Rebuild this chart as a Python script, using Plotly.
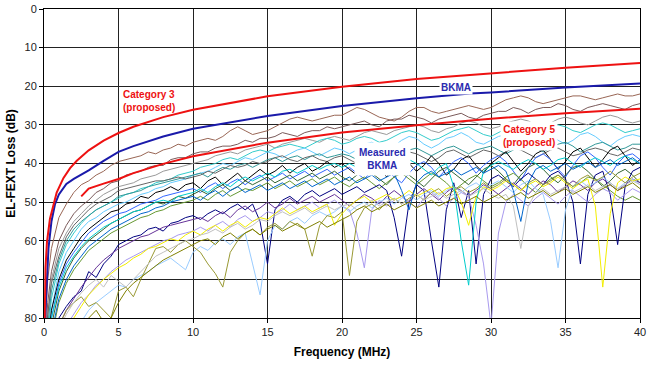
import plotly.graph_objects as go

# ---------------- data ----------------
freq = [0.1, 0.25, 0.5,
        1, 1.5, 2, 2.5, 3, 3.5, 4, 4.5, 5, 5.5, 6, 6.5, 7, 7.5, 8, 8.5, 9, 9.5, 10,
        10.5, 11, 11.5, 12, 12.5, 13, 13.5, 14, 14.5, 15, 15.5, 16, 16.5, 17, 17.5, 18, 18.5, 19, 19.5, 20,
        20.5, 21, 21.5, 22, 22.5, 23, 23.5, 24, 24.5, 25, 25.5, 26, 26.5, 27, 27.5, 28, 28.5, 29, 29.5, 30,
        30.5, 31, 31.5, 32, 32.5, 33, 33.5, 34, 34.5, 35, 35.5, 36, 36.5, 37, 37.5, 38, 38.5, 39, 39.5, 40]

m01 = [80, 70, 62,
       54, 50.5, 47.5, 45.5, 44.5, 43, 42, 40.5, 39.5, 39, 38.5, 38, 37, 37.5, 36.5, 36, 35, 35.5, 34.5,
       34, 33.5, 34, 33, 31.5, 30.5, 31.5, 32.5, 32, 31.5, 30.5, 29.5, 28.5, 28, 28.5, 29, 28.5, 28, 27.5, 27.5,
       26.5, 25.5, 26, 27, 28, 28.5, 29, 28, 26.5, 25.5, 25.5, 26.5, 27, 26.5, 26, 25.5, 25, 25.5, 26, 25.5,
       24.5, 23.5, 23, 22.5, 23, 24, 24.5, 24, 23.5, 23, 22.5, 22.5, 23, 23.5, 23, 22.5, 22, 22.5, 22.5, 22]
m02 = [85, 76, 68,
       60, 56, 53, 51, 49.5, 47.5, 46.5, 45, 44.5, 43, 42.5, 42, 41, 40.5, 40.5, 39, 38.5, 38.5, 37.5,
       37, 37, 36, 35.5, 35.5, 35, 34, 34.5, 33.5, 33.5, 33, 32, 32.5, 33, 32, 31.5, 31.5, 30.5, 31, 30.5,
       30, 29.5, 29, 30, 30.5, 29, 28.5, 28.5, 27.5, 28, 28.5, 29.5, 28.5, 28, 27.5, 27, 28, 28.5, 27.5, 27,
       26.5, 26.5, 25.5, 26, 27, 26, 25.5, 25.5, 24.5, 25, 26, 26.5, 25.5, 25, 24.5, 25, 25.5, 26, 25, 24.5]
m03 = [88, 80, 70,
       62, 58, 55, 53, 51, 49.5, 48, 47, 46, 45.5, 45, 44, 43.5, 43, 42, 41.5, 41, 40.5, 40,
       39.5, 39, 38, 37.5, 37, 37.5, 36.5, 36, 35.5, 35, 36, 35, 34.5, 34, 33.5, 34, 34.5, 33.5, 33, 33.5,
       34, 33, 32, 31.5, 32, 32.5, 31.5, 31, 30.5, 30, 30.5, 31.5, 32, 31, 30.5, 29.5, 29, 29.5, 30.5, 31,
       30.5, 29.5, 29, 28.5, 29, 30, 30.5, 29.5, 28.5, 28, 28.5, 29.5, 30, 29, 28, 27.5, 28, 29, 29.5, 29]
m04 = [90, 84, 75,
       66, 61, 58, 55.5, 53.5, 52, 51, 50, 49, 48, 47.5, 46.5, 46, 45, 44.5, 44, 43, 42.5, 42,
       41, 40.5, 40, 39, 38.5, 39, 38, 37, 36.5, 37, 36, 35.5, 35, 35.5, 36, 35, 34, 33.5, 34, 35,
       34.5, 33.5, 33, 33.5, 34.5, 34, 33, 32, 31.5, 32, 33, 34, 33.5, 32.5, 31.5, 31, 30.5, 31.5, 32.5, 33,
       32, 31, 30.5, 31, 32, 32.5, 31.5, 30.5, 30, 30.5, 31.5, 32, 31, 30, 29.5, 30, 31, 32, 31.5, 31]
m05 = [92, 86, 78,
       68, 63, 60, 57, 55, 54, 52.5, 51.5, 50.5, 50, 49, 48, 47.5, 46.5, 46, 45, 44.5, 44, 43,
       42.5, 42, 41, 40, 40.5, 39.5, 38.5, 39, 38, 37, 37.5, 38.5, 37.5, 36.5, 36, 37, 38, 37, 36, 36.5,
       37.5, 36.5, 35, 34.5, 35.5, 36.5, 35.5, 34, 33, 33.5, 35, 36, 35, 33.5, 33, 32, 33, 34.5, 35, 34,
       33, 32.5, 33.5, 35, 34.5, 33, 32, 32.5, 34, 35, 34, 32.5, 32, 33, 34.5, 35.5, 34, 33, 32.5, 33]
m06 = [90, 82, 73,
       65, 60, 57, 55, 53.5, 52, 51, 50, 48.5, 48, 47.5, 47, 46, 45.5, 45, 44.5, 44, 43.5, 43,
       42.5, 43.5, 42, 41, 41.5, 40.5, 40, 41, 40, 39, 38.5, 39.5, 38.5, 38, 39, 38, 37.5, 38.5, 38, 37.5,
       38, 39, 38, 37, 36.5, 37.5, 38.5, 37.5, 36.5, 36, 37, 38, 37, 36, 35.5, 36.5, 37.5, 36.5, 36, 35.5,
       36.5, 37.5, 36.5, 35.5, 35, 36, 37, 36, 35, 34.5, 35.5, 37, 36, 35, 34.5, 35.5, 36.5, 36, 35, 35]
m07 = [88, 79, 71,
       64, 59, 56, 54, 52, 50.5, 49.5, 48.5, 47, 46.5, 46, 45.5, 45, 44.5, 44.5, 44, 43.5, 44, 43.5,
       43, 42, 42.5, 41.5, 40.5, 41, 40.5, 39.5, 40, 39.5, 38.5, 38, 39, 39.5, 38.5, 38, 39, 39.5, 38.5, 38,
       39, 40, 38.5, 37.5, 38, 39, 38.5, 37.5, 37, 37.5, 38.5, 39.5, 38.5, 37, 36.5, 37.5, 38.5, 37.5, 36.5, 37,
       38, 37, 36, 36.5, 37.5, 38.5, 37.5, 36.5, 36, 37, 38, 37.5, 36.5, 36, 36.5, 37.5, 38, 37, 36, 36.5]
m08 = [92, 86, 78,
       70, 65, 62, 59, 57, 55.5, 54, 52.5, 52, 50.5, 50, 48.5, 49, 47.5, 47, 46, 47, 45.5, 45,
       46.5, 44.5, 43.5, 45.5, 44, 42.5, 44.5, 43, 41.5, 43, 42, 40.5, 42.5, 41, 40, 42, 41, 39.5, 41, 40,
       41.5, 43, 40.5, 39, 41, 43.5, 41, 38.5, 40, 42, 40.5, 38, 40, 43, 41.5, 39, 38, 40.5, 42.5, 40,
       38.5, 37, 39.5, 42, 40, 37.5, 36.5, 39, 41.5, 39.5, 37, 36, 38.5, 41, 39, 36.5, 35.5, 38, 40.5, 39]
m09 = [95, 88, 80,
       71, 66, 63, 60.5, 58, 56.5, 55, 54, 53, 52.5, 51.5, 50.5, 50, 49.5, 48.5, 48, 47.5, 47, 46.5,
       47.5, 46, 45, 46.5, 45, 44, 45.5, 44, 43, 44.5, 43.5, 42.5, 44, 43, 42, 43.5, 42.5, 41.5, 43, 42,
       41, 42.5, 44, 42, 40.5, 41.5, 43.5, 45, 42.5, 40.5, 39.5, 41, 43.5, 41.5, 39.5, 38.5, 40, 42.5, 40.5, 39,
       38, 39.5, 42, 44.5, 41, 38.5, 37.5, 39, 41.5, 43.5, 40.5, 38, 37, 38.5, 41, 43, 40, 38, 37.5, 39]
m10 = [95, 90, 82,
       73, 68, 64.5, 62, 60, 58.5, 57, 55.5, 54.5, 53.5, 52.5, 52, 51, 50, 50.5, 49.5, 48.5, 49, 48,
       47, 48, 46.5, 45.5, 47, 46, 44.5, 45.5, 44.5, 43.5, 45, 44, 43, 44.5, 43.5, 42.5, 44, 43, 42, 43.5,
       44.5, 43, 41.5, 42.5, 44, 45.5, 43.5, 42, 43, 44.5, 46, 44, 42, 41, 42.5, 44, 45.5, 43.5, 41.5, 40.5,
       42, 44, 45.5, 43, 41, 40, 41.5, 43.5, 45, 43, 41, 40.5, 42, 44, 46, 44.5, 42.5, 41.5, 43, 45]
m11 = [98, 92, 85,
       76, 71, 67.5, 65, 62.5, 61, 59.5, 58, 57, 56, 55, 54, 53.5, 52.5, 52, 51, 50.5, 50, 49.5,
       48.5, 49.5, 48, 47, 48.5, 47.5, 46.5, 47, 46, 45, 46.5, 45.5, 44.5, 46, 45, 44, 45.5, 44.5, 43.5, 45,
       46, 44.5, 43.5, 45, 46.5, 45, 43.5, 42.5, 44, 45.5, 44, 42.5, 43.5, 45, 47, 45.5, 44, 43, 44.5, 46,
       45, 43.5, 42.5, 44, 46, 47.5, 45.5, 44, 43, 44.5, 46, 45, 43.5, 44, 45.5, 47, 48.5, 49.5, 48.5, 49.5]
m12 = [100, 95, 88,
       80, 77, 74.5, 73, 68, 69.5, 66, 64, 61, 60, 59, 58.5, 57, 56.5, 57.5, 55.5, 55, 54, 53.5,
       54.5, 53, 52, 53, 51.5, 50.5, 52, 50.5, 55, 66, 52, 49.5, 48.5, 50, 48, 47, 48.5, 47.5, 46.5, 48,
       47, 46, 47.5, 46.5, 45.5, 47, 54, 64, 50, 45.5, 47, 60, 72, 52, 45, 54, 47, 66, 48, 44,
       43, 44.5, 46, 44, 42.5, 44, 45.5, 43, 42, 44, 50, 66, 48, 43, 42, 48, 61, 46, 42, 41]
m13 = [100, 96, 90,
       82, 78, 75, 72, 69.5, 67, 65, 63.5, 62, 61, 60, 59, 58.5, 57.5, 56.5, 56, 55.5, 55, 54.5,
       54, 55, 53.5, 52.5, 54, 52, 51, 52.5, 51.5, 50, 51.5, 50.5, 49, 50.5, 49.5, 48.5, 50, 49, 48, 49.5,
       51, 49.5, 48, 49, 50.5, 48.5, 47, 48.5, 50, 48, 46.5, 48, 49.5, 47.5, 46, 47, 48.5, 47, 45.5, 46.5,
       48, 46.5, 45, 46.5, 48, 46, 44.5, 45.5, 47.5, 46, 44.5, 45.5, 47, 45, 44, 45.5, 47, 45.5, 44, 45]
m14 = [100, 100, 95,
       86, 82, 79, 76, 74, 71.5, 70, 68, 66.5, 65, 64, 63, 62, 61, 60, 59.5, 58.5, 58, 57.5,
       56.5, 57.5, 56, 55, 56.5, 54.5, 53.5, 55, 54, 52.5, 53, 52, 50.5, 52, 51, 50, 51.5, 50.5, 49.5, 51,
       52, 58, 67, 52, 49.5, 51, 49.5, 48.5, 50, 51.5, 49, 47.5, 49, 51, 49, 47.5, 48.5, 56, 66, 82,
       58, 50, 48, 49.5, 51, 49, 47.5, 49, 50.5, 48.5, 47, 48.5, 50, 48, 46.5, 47.5, 49.5, 48, 46.5, 47.5]
m15 = [100, 100, 100,
       92, 88, 84, 81, 78, 76, 74.5, 73, 71.5, 72, 70, 69, 68, 66.5, 65.5, 64.5, 66, 67.5, 63,
       61.5, 62.5, 60.5, 59.5, 61, 59, 58, 66, 74, 60, 56, 57, 55, 54, 55.5, 53.5, 52.5, 53.5, 52.5, 51,
       52.5, 51, 50, 51.5, 50, 49, 50.5, 49, 48, 49.5, 48, 47, 48.5, 47, 46, 47.5, 46, 45, 46.5, 45.5,
       44.5, 46, 47.5, 45.5, 44.5, 46.5, 48, 55, 67, 52, 46, 44.5, 46, 45, 43.5, 45, 46.5, 45, 44, 45.5]
m16 = [100, 100, 100,
       82, 78, 76, 74.5, 77, 76, 78, 80, 73, 72, 74.5, 70, 66, 62, 61.5, 63, 61, 60, 61.5,
       63, 66, 68.5, 72, 63, 60, 58, 57, 58.5, 56.5, 55.5, 57, 55, 56, 57, 64, 56, 53.5, 54, 52.5,
       69, 55, 51.5, 50.5, 52, 50, 49, 50.5, 49, 48, 49.5, 47.5, 46.5, 48.5, 47, 46, 47.5, 46.5, 45, 46.5,
       45.5, 44, 45.5, 47, 45, 44, 45.5, 44.5, 43, 44.5, 46, 44, 43, 44.5, 43.5, 42, 43.5, 45, 43.5, 42.5]
m17 = [100, 100, 98,
       88, 84, 80, 77, 74, 72, 70, 68.5, 67, 66, 64.5, 63.5, 62, 61.5, 60.5, 59.5, 60, 58.5, 57.5,
       58.5, 57, 56, 57.5, 56, 55, 56.5, 55, 54, 54.5, 53, 51.5, 53, 52, 51, 52.5, 51.5, 50.5, 56, 53,
       51, 49.5, 48.5, 50, 49, 48, 49.5, 48.5, 47, 48.5, 47.5, 46.5, 48, 46.5, 46, 50, 56, 48.5, 46, 47,
       46, 44.5, 45.5, 47, 45.5, 44.5, 46, 45, 43.5, 45, 46.5, 45, 44, 51, 72, 53, 45, 43.5, 44.5, 44]
m18 = [100, 97, 90,
       83, 79, 76, 73.5, 71.5, 70, 72, 69, 70.5, 72, 70, 68, 66, 64, 63, 62, 61, 60, 59.5,
       58.5, 58, 57, 58, 56.5, 55.5, 57, 56, 54.5, 55, 53.5, 52.5, 53.5, 52.5, 51.5, 53, 52, 51, 52, 51,
       50.5, 52, 51, 49.5, 51, 50, 49, 50.5, 49.5, 48, 49.5, 48.5, 47.5, 49, 48, 47, 48.5, 47.5, 46.5, 48,
       49, 48, 51, 62, 51, 47.5, 46.5, 48, 47, 46, 47.5, 46.5, 45.5, 47, 46, 45, 46.5, 45.5, 44.5, 45.5]
m19 = [95, 88, 80,
       72, 67, 64, 61.5, 59.5, 58, 56.5, 55.5, 54.5, 53.5, 52.5, 52, 51, 50, 49.5, 50, 48.5, 48, 47.5,
       46.5, 47.5, 46, 45, 46, 44.5, 43.5, 44.5, 43.5, 42.5, 43.5, 42, 41.5, 42.5, 41.5, 40.5, 41.5, 40.5, 40, 41,
       40, 41, 42, 40.5, 39.5, 40.5, 41.5, 40, 39, 40, 41.5, 43, 41, 40, 46, 60, 71.5, 50, 42, 40.5,
       39.5, 40.5, 41.5, 40, 39, 40, 41.5, 40.5, 39, 38.5, 40, 41, 39.5, 38.5, 39.5, 40.5, 39, 38, 39, 40]
m20 = [98, 92, 84,
       75, 70, 66.5, 64, 61.5, 60, 58.5, 57, 56, 55, 54, 53, 52.5, 51.5, 51, 50, 49.5, 49, 48.5,
       49.5, 48, 47, 48.5, 47, 46, 47.5, 46.5, 45.5, 47, 46, 45, 46.5, 45.5, 44.5, 46, 45, 44, 45.5, 44.5,
       43.5, 45, 44, 43, 44.5, 43.5, 42.5, 47, 52, 45, 43, 42, 43.5, 42.5, 41.5, 43, 42, 41, 42.5, 41.5,
       40.5, 42, 47, 55, 45, 41.5, 40.5, 42, 41, 40, 41.5, 40.5, 39.5, 41, 40, 39, 40.5, 39.5, 38.5, 40]
m21 = [100, 100, 100,
       95, 90, 86, 82, 80, 78, 81, 80, 76, 73, 71, 69.5, 68, 66.5, 65, 64, 63, 62, 61,
       60, 59.5, 61, 59, 58, 59.5, 58, 57, 58.5, 57, 56, 57.5, 56.5, 55.5, 57, 56, 55, 56.5, 55.5, 54.5,
       53.5, 52, 51, 52.5, 51.5, 50.5, 52, 51, 50, 51.5, 50.5, 49.5, 51, 50, 49, 50.5, 49.5, 48.5, 50, 49,
       48, 49.5, 48.5, 47.5, 49, 48, 47, 48.5, 47.5, 46.5, 48, 47, 46, 47.5, 46.5, 45.5, 47, 46, 45, 46.5]

cat3_f = [0.05, 0.1, 0.2, 0.4, 0.85, 1.3, 1.75, 2.2, 3, 4, 5, 6, 8, 10, 15, 20, 25, 30, 35, 40]
cat3_db = [80, 67, 60.3, 54.3, 47.5, 43.8, 41.2, 39.3, 36.6, 34.1, 32.1, 30.5, 28.0, 26.1, 22.6, 20.1, 18.1, 16.6, 15.2, 14.0]

bkma_f = [0.08, 0.18, 0.3, 0.5, 0.74, 1, 1.5, 2, 3, 4, 5, 6, 8, 10, 12, 15, 20, 25, 28.6, 30, 35, 40]
bkma_db = [80, 70, 62, 55, 50.5, 48, 45.3, 44, 41.8, 39.3, 37, 35.5, 33, 31, 29.7, 27.7, 25.1, 23.1, 21.9, 21.6, 20.3, 19.3]

cat5_f = [2.5, 3, 4, 5, 6, 8, 10, 15, 20, 25, 30, 35, 40]
cat5_db = [48.5, 46.5, 45.2, 44.0, 42.5, 40.1, 38.1, 34.6, 32.0, 30.1, 28.4, 27.0, 25.8]

measured = [m01, m02, m03, m04, m05, m06, m07, m08, m09, m10, m11,
            m12, m13, m14, m15, m16, m17, m18, m19, m20, m21]

# ---------------- styles ----------------
measured_colors = ['#996655', '#7a5a5a', '#999999', '#33cccc', '#66ccff', '#339999', '#666666',
                   '#000000', '#3366ff', '#336633', '#669933', '#000080', '#663399', '#a899ee',
                   '#99ccff', '#999933', '#f2ee00', '#c0c0c0', '#00cccc', '#0066cc', '#808000']

fig = go.Figure()
for vals, col in zip(measured, measured_colors):
    assert len(vals) == len(freq), len(vals)
    fig.add_trace(go.Scatter(x=freq, y=vals, mode='lines',
                             line=dict(color=col, width=1), hoverinfo='skip'))

fig.add_trace(go.Scatter(x=cat5_f, y=cat5_db, mode='lines', line=dict(color='#ee1111', width=2)))
fig.add_trace(go.Scatter(x=bkma_f, y=bkma_db, mode='lines', line=dict(color='#1a1aaa', width=2)))
fig.add_trace(go.Scatter(x=cat3_f, y=cat3_db, mode='lines', line=dict(color='#ee1111', width=2)))

FONT = 'Arial, Liberation Sans, sans-serif'
ann_font_red = dict(family=FONT, size=10, color='#ee1111')
ann_font_blue = dict(family=FONT, size=10, color='#2a2ab0')

fig.add_annotation(x=7.05, y=23.8, text='<b>Category 3<br>(proposed)</b>', showarrow=False,
                   font=ann_font_red, align='left')
fig.add_annotation(x=27.65, y=20.4, text='<b>BKMA</b>', showarrow=False,
                   font=ann_font_blue, bgcolor='white', borderpad=1)
fig.add_annotation(x=22.75, y=38.8, text='<b>Measured<br>BKMA</b>', showarrow=False,
                   font=ann_font_blue, bgcolor='white', borderpad=4, align='center')
fig.add_annotation(x=32.55, y=33.0, text='<b>Category 5<br>(proposed)</b>', showarrow=False,
                   font=ann_font_red, bgcolor='white', borderpad=2, align='center')

axis_common = dict(showgrid=True, gridcolor='#222222', gridwidth=1, showline=True,
                   linecolor='#000000', linewidth=1, mirror=True, ticks='outside', ticklen=4,
                   tickcolor='#000000', zeroline=False, automargin=False,
                   tickfont=dict(family=FONT, size=11, color='#222222'))

fig.update_layout(
    width=650, height=365,
    margin=dict(l=44, r=10, t=9, b=47),
    plot_bgcolor='white', paper_bgcolor='white',
    showlegend=False,
    font=dict(family=FONT, size=11, color='#222222'),
    xaxis=dict(range=[0, 40], tickvals=[0, 5, 10, 15, 20, 25, 30, 35, 40],
               title=dict(text='<b>Frequency (MHz)</b>', font=dict(family=FONT, size=12, color='#000000'),
                          standoff=10),
               **axis_common),
    yaxis=dict(range=[80, 0], tickvals=[0, 10, 20, 30, 40, 50, 60, 70, 80],
               title=dict(text='<b>EL-FEXT Loss (dB)</b>', font=dict(family=FONT, size=12, color='#000000'),
                          standoff=6),
               **axis_common),
)

fig.write_html('out.html', config={'displayModeBar': False},
               post_script="document.body.style.margin='0';document.body.style.overflow='hidden';")
